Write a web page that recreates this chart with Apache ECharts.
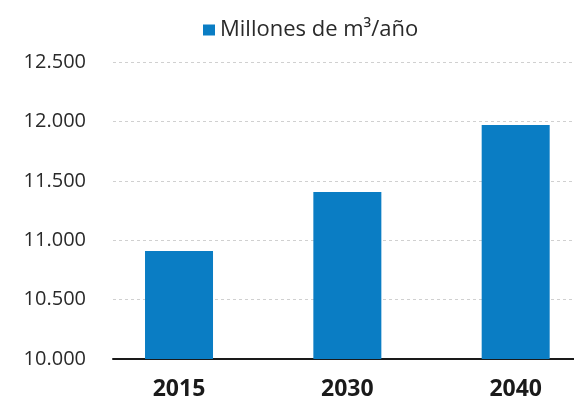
<!DOCTYPE html>
<html>
<head>
<meta charset="utf-8">
<script src="https://cdn.jsdelivr.net/npm/echarts@6/dist/echarts.min.js"></script>
<style>html,body{margin:0;padding:0;background:#fff}#c{width:574px;height:401px}</style>
</head>
<body>
<div id="c"></div>
<script>
const categories = ['2015', '2030', '2040'];
const seriesName = 'Millones de m³/año';
const values = [10910, 11405, 11970];
const yTicks = { min: 10000, max: 12500, interval: 500 };

const chart = echarts.init(document.getElementById('c'), null, { renderer: 'canvas' });
const font = 'Open Sans';
const fmt = v => String(v).replace(/\B(?=(\d{3})+(?!\d))/g, '.');

chart.setOption({
  animation: false,
  backgroundColor: '#fff',
  textStyle: { fontFamily: font },
  legend: {
    left: 203, top: 19, padding: 0,
    icon: 'rect', itemWidth: 12, itemHeight: 11, itemGap: 6,
    textStyle: { fontFamily: font, fontSize: 22, color: '#2a2a2a' },
    data: [seriesName]
  },
  grid: [
    { left: 113, right: 0, top: 62, bottom: 42, outerBoundsMode: 'none', containLabel: false },
    { left: 94.85, width: 505, top: 62, bottom: 42, outerBoundsMode: 'none', containLabel: false }
  ],
  xAxis: [
    { type: 'category', gridIndex: 0, data: categories,
      axisLine: { lineStyle: { color: '#1a1a1a', width: 2 } },
      axisTick: { show: false }, axisLabel: { show: false } },
    { type: 'category', gridIndex: 1, data: categories,
      axisLine: { show: false }, axisTick: { show: false },
      axisLabel: { fontFamily: font, fontSize: 23, fontWeight: 'bold', color: '#1a1a1a', margin: 19 } }
  ],
  yAxis: [
    { type: 'value', gridIndex: 0, min: yTicks.min, max: yTicks.max, interval: yTicks.interval,
      axisLine: { show: false }, axisTick: { show: false },
      axisLabel: { fontFamily: font, fontSize: 20, color: '#2a2a2a', margin: 27, formatter: fmt },
      splitLine: { show: true, lineStyle: { color: '#d0d0d0', type: [3, 3], width: 1 } } },
    { type: 'value', gridIndex: 1, min: yTicks.min, max: yTicks.max, interval: yTicks.interval,
      show: false, splitLine: { show: false } }
  ],
  series: [{
    name: seriesName, type: 'bar', xAxisIndex: 1, yAxisIndex: 1,
    data: values, barWidth: 68,
    itemStyle: { color: '#0a7dc4' }
  }]
});
</script>
</body>
</html>
